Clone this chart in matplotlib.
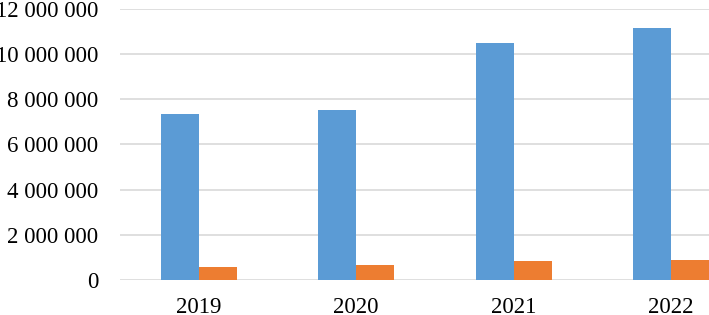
import matplotlib
matplotlib.use("Agg")
import matplotlib.pyplot as plt
import numpy as np

years = ["2019", "2020", "2021", "2022"]
series_a = [7350000, 7520000, 10500000, 11180000]
series_b = [575000, 650000, 840000, 885000]
yticks = [0, 2000000, 4000000, 6000000, 8000000, 10000000, 12000000]
ytick_labels = ["0", "2 000 000", "4 000 000", "6 000 000", "8 000 000", "10 000 000", "12 000 000"]

plt.rcParams['font.family'] = ['Liberation Serif', 'DejaVu Serif']

W, H = 709, 315
fig = plt.figure(figsize=(W/100, H/100), dpi=100)
left, right = 120, 709
top, bottom = 9, 280
ax = fig.add_axes([left/W, 1-bottom/H, (right-left)/W, (bottom-top)/H])

x = np.arange(len(years))
bw = 0.241
ax.bar(x - bw/2, series_a, width=bw, color="#5B9BD5", zorder=3)
ax.bar(x + bw/2, series_b, width=bw, color="#ED7D31", zorder=3)

ax.set_xlim(-0.5, 3.24)
ax.set_ylim(0, 12000000)
ax.set_yticks(yticks)
ax.set_yticklabels(ytick_labels)
ax.set_xticks(x)
ax.set_xticklabels(years)
ax.tick_params(axis='both', length=0, labelsize=16.5, colors='black')
ax.tick_params(axis='y', pad=15.5)
ax.tick_params(axis='x', pad=12)
ax.grid(axis='y', color='#D9D9D9', linewidth=1.2, zorder=0)
for s in ax.spines.values():
    s.set_visible(False)
ax.set_axisbelow(True)

fig.savefig("out.png", dpi=100)
